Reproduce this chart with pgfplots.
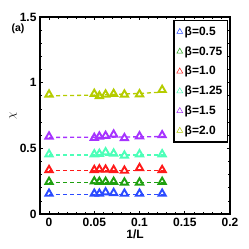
\documentclass[border=0pt]{standalone}
\usepackage{pgfplots}
\pgfplotsset{compat=1.18}
\usepackage{fontspec}
\setmainfont{Liberation Sans}
\definecolor{cb}{HTML}{2B4BFF}
\definecolor{cg}{HTML}{1FA010}
\definecolor{cr}{HTML}{FF1A1A}
\definecolor{cc}{HTML}{4DFFB8}
\definecolor{cp}{HTML}{A633FF}
\definecolor{cy}{HTML}{B5CC00}
\begin{document}
\begin{tikzpicture}
\path[use as bounding box] (-40pt,-35pt) rectangle (209pt,214pt);
\begin{axis}[
  scale only axis, width=190pt, height=197pt,
  xmin=-0.01, xmax=0.2, ymin=0, ymax=1.5,
  xtick={0,0.05,0.1,0.15,0.2},
  xticklabels={0,0.05,0.1,0.15,0.2},
  ytick={0,0.5,1,1.5},
  yticklabels={0,0.5,1,1.5},
  minor x tick num=4, minor y tick num=4,
  tick align=inside, major tick length=3pt, minor tick length=2pt,
  axis line style={line width=1.8pt},
  every tick/.style={black, line width=0.6pt},
  ticklabel style={font=\fontsize{12}{13}\selectfont\bfseries},
  xticklabel style={yshift=-1pt},
  xlabel={\bfseries 1/L}, xlabel style={font=\fontsize{12}{13}\selectfont, yshift=4pt},
  ylabel={$\chi$}, ylabel style={font=\fontsize{13}{13}\selectfont, yshift=-4pt},
  legend style={at={(0.99,0.985)}, anchor=north east, draw=black, line width=1.4pt,
    font=\fontsize{12}{14}\selectfont\bfseries, row sep=5.6pt, inner xsep=3pt, inner ysep=4pt},
  legend cell align=left,
  legend image code/.code={\draw[mark repeat=2,mark phase=2, line width=0.4pt, mark size=3.4pt, mark options={line width=0.5pt}] plot coordinates {(0cm,0cm) (0.3cm,0cm) (0.6cm,0cm)};},
  clip=false,
]
% fit lines
\addplot[cb, dashed, line width=1.3pt, dash pattern=on 4pt off 3pt, forget plot] coordinates {(0,0.15) (0.13,0.15)};
\addplot[cg, dashed, line width=1.3pt, dash pattern=on 4pt off 3pt, forget plot] coordinates {(0,0.24) (0.13,0.24)};
\addplot[cr, dashed, line width=1.3pt, dash pattern=on 4pt off 3pt, forget plot] coordinates {(0,0.33) (0.13,0.33)};
\addplot[cc, dashed, line width=1.3pt, dash pattern=on 4pt off 3pt, forget plot] coordinates {(0,0.45) (0.13,0.45)};
\addplot[cp, dashed, line width=1.3pt, dash pattern=on 4pt off 3pt, forget plot] coordinates {(0,0.583) (0.065,0.585) (0.13,0.59)};
\addplot[cy, dashed, line width=1.3pt, dash pattern=on 4pt off 3pt, forget plot] coordinates {(0,0.90) (0.05,0.905) (0.1,0.918) (0.13,0.93)};
% data
\pgfplotsset{mk/.style={only marks, mark=triangle, mark size=4.2pt, mark options={line width=1.9pt}}}
\addplot[cb, mk] coordinates {
(0,0.155) (0.05,0.155) (0.0556,0.155) (0.0625,0.165) (0.0714,0.16) (0.0833,0.155) (0.1,0.155) (0.125,0.155)};
\addlegendentry{β=0.5}
\addplot[cg, mk] coordinates {
(0,0.245) (0.05,0.248) (0.0556,0.245) (0.0625,0.245) (0.0714,0.245) (0.0833,0.24) (0.1,0.24) (0.125,0.245)};
\addlegendentry{β=0.75}
\addplot[cr, mk] coordinates {
(0,0.335) (0.05,0.335) (0.0556,0.34) (0.0625,0.338) (0.0714,0.335) (0.0833,0.33) (0.1,0.35) (0.125,0.335)};
\addlegendentry{β=1.0}
\addplot[cc, mk] coordinates {
(0,0.455) (0.05,0.455) (0.0556,0.458) (0.0625,0.47) (0.0714,0.46) (0.0833,0.445) (0.1,0.455) (0.125,0.455)};
\addlegendentry{β=1.25}
\addplot[cp, mk] coordinates {
(0,0.59) (0.05,0.58) (0.0556,0.59) (0.0625,0.595) (0.0714,0.605) (0.0833,0.578) (0.1,0.592) (0.125,0.60)};
\addlegendentry{β=1.5}
\addplot[cy, mk] coordinates {
(0,0.91) (0.05,0.915) (0.0556,0.898) (0.0625,0.91) (0.0714,0.915) (0.0833,0.91) (0.1,0.912) (0.125,0.945)};
\addlegendentry{β=2.0}
\node[font=\fontsize{10.5}{12}\selectfont\bfseries] at (rel axis cs:-0.116,0.94) {(a)};
\end{axis}
\end{tikzpicture}
\end{document}
